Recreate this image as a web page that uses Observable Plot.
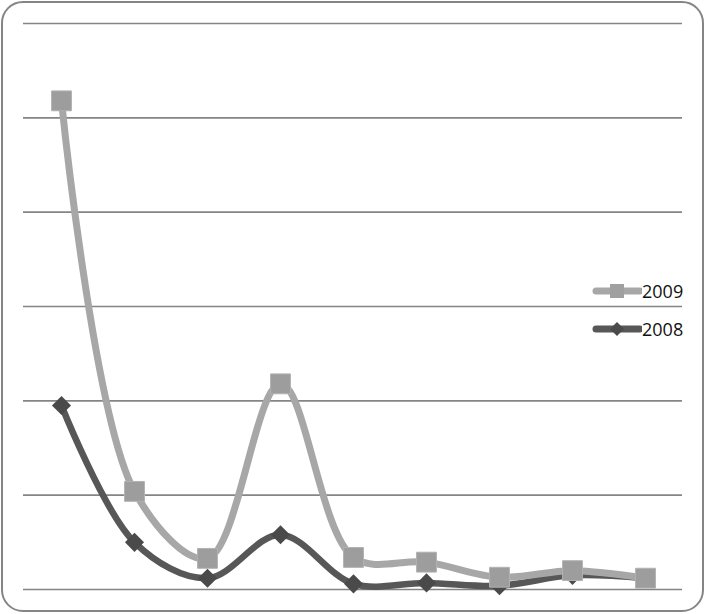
<!DOCTYPE html>
<html>
<head>
<meta charset="utf-8">
<script src="https://cdn.jsdelivr.net/npm/d3@7"></script>
<script src="https://cdn.jsdelivr.net/npm/@observablehq/plot@0.6"></script>
<style>
  html, body { margin: 0; padding: 0; background: #fff; }
  #wrap { position: relative; width: 705px; height: 614px; overflow: hidden; }
  #frame { position: absolute; left: 1px; top: 1px; width: 703px; height: 611px; box-sizing: border-box;
           border: 2px solid #858585; border-radius: 22px; }
  #chart { position: absolute; left: 0; top: 0; }
  #legend { position: absolute; left: 588px; top: 272px; font-family: "Open Sans", sans-serif; font-size: 18px; color: #111; }
</style>
</head>
<body>
<div id="wrap">
  <div id="frame"></div>
  <div id="chart"></div>
  <div id="legend"></div>
</div>
<script>
const categories = ["1", "2", "3", "4", "5", "6", "7", "8", "9"];
const series2009 = [51.8, 10.4, 3.3, 21.8, 3.4, 2.9, 1.3, 2.0, 1.2];
const series2008 = [19.5, 5.0, 1.2, 5.8, 0.6, 0.7, 0.4, 1.5, 1.2];
const gridTicks = [0, 10, 20, 30, 40, 50, 60];
const seriesNames = ["2009", "2008"];

const c2009 = "#a7a7a7", c2008 = "#575757";
const d09 = categories.map((c, i) => ({cat: c, v: series2009[i]}));
const d08 = categories.map((c, i) => ({cat: c, v: series2008[i]}));

const plot = Plot.plot({
  width: 705,
  height: 614,
  marginLeft: 23,
  marginRight: 23,
  marginTop: 23,
  marginBottom: 25,
  x: {type: "point", domain: categories, padding: 0.5, axis: null},
  y: {domain: [0, 60], axis: null},
  style: {background: "transparent", overflow: "visible"},
  marks: [
    Plot.ruleY(gridTicks, {stroke: "#858585", strokeWidth: 1.6}),
    Plot.line(d08, {x: "cat", y: "v", stroke: c2008, strokeWidth: 6.5, curve: "catmull-rom"}),
    Plot.line(d09, {x: "cat", y: "v", stroke: c2009, strokeWidth: 7, curve: "catmull-rom"}),
    Plot.dot(d08, {x: "cat", y: "v", symbol: "diamond2", r: 8.6, fill: "#4a4a4a", stroke: "none"}),
    Plot.dot(d09, {x: "cat", y: "v", symbol: "square", r: 11.2, fill: "#9d9d9d", stroke: "#b2b2b2", strokeWidth: 1})
  ]
});
document.getElementById("chart").appendChild(plot);

// legend
const legend = document.getElementById("legend");
const items = [
  {name: seriesNames[0], color: c2009, sym: "square"},
  {name: seriesNames[1], color: c2008, sym: "diamond"}
];
items.forEach((it, i) => {
  const row = document.createElement("div");
  row.style.cssText = "display:flex;align-items:center;height:38px;";
  const ns = "http://www.w3.org/2000/svg";
  const svg = document.createElementNS(ns, "svg");
  svg.setAttribute("width", 54); svg.setAttribute("height", 20);
  const ln = document.createElementNS(ns, "line");
  ln.setAttribute("x1", 8); ln.setAttribute("x2", 52); ln.setAttribute("y1", 10); ln.setAttribute("y2", 10);
  ln.setAttribute("stroke", it.color); ln.setAttribute("stroke-width", 7); ln.setAttribute("stroke-linecap", "round");
  svg.appendChild(ln);
  const p = document.createElementNS(ns, "path");
  if (it.sym === "square") {
    p.setAttribute("d", "M22,3h14v14h-14z"); p.setAttribute("fill", "#a0a0a0");
  } else {
    p.setAttribute("d", "M29,3l7,7l-7,7l-7,-7z"); p.setAttribute("fill", "#4a4a4a");
  }
  svg.appendChild(p);
  row.appendChild(svg);
  const t = document.createElement("span");
  t.textContent = it.name;
  t.style.marginLeft = "0px";
  row.appendChild(t);
  legend.appendChild(row);
});
</script>
</body>
</html>
